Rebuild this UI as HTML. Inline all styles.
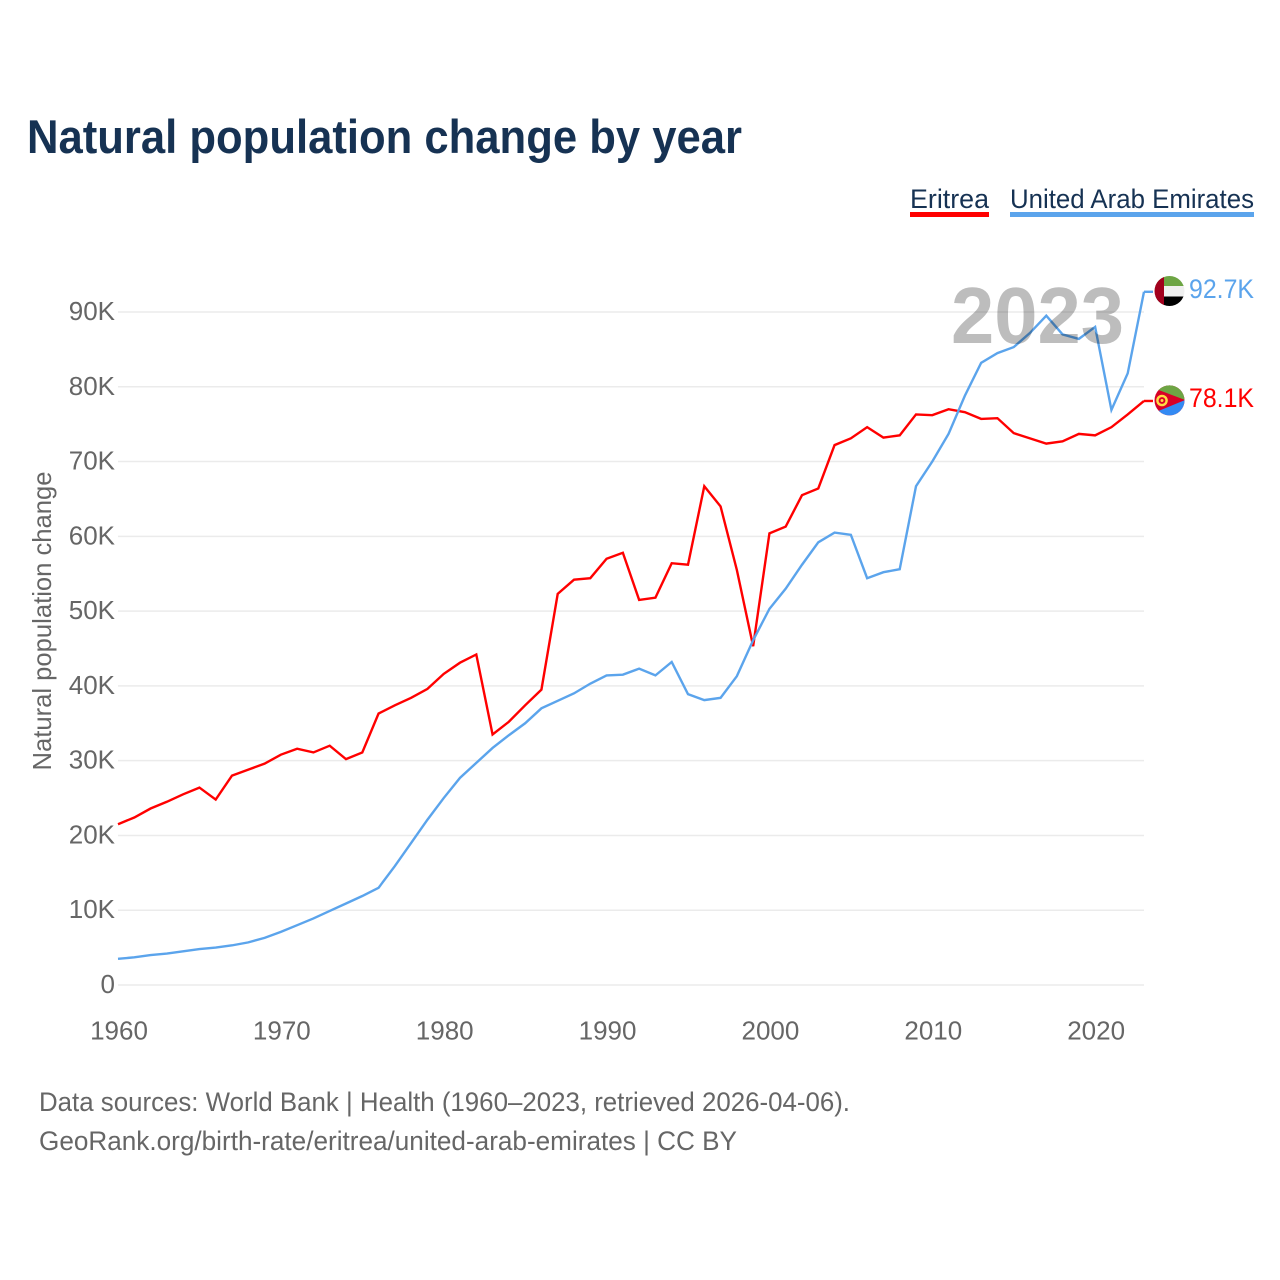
<!DOCTYPE html>
<html lang="en">
<head>
<meta charset="utf-8">
<title>Natural population change by year</title>
<style>
html,body{margin:0;padding:0;background:#fff;}
svg{display:block;}
text{font-family:"Liberation Sans",sans-serif;}
.tick{font-size:26px;fill:#666;}
.foot{font-size:27px;fill:#666;}
</style>
</head>
<body>
<svg id="chart" width="1280" height="1280" viewBox="0 0 1280 1280">
  <text x="27" y="153" font-size="47" font-weight="700" fill="#163253" textLength="715" lengthAdjust="spacingAndGlyphs">Natural population change by year</text>

  <g>
    <text x="910" y="208" font-size="27" fill="#163253" textLength="79" lengthAdjust="spacingAndGlyphs">Eritrea</text>
    <rect x="910" y="212" width="79" height="5" fill="#ff0000"></rect>
  </g>
  <g>
    <text x="1010" y="208" font-size="27" fill="#163253" textLength="244" lengthAdjust="spacingAndGlyphs">United Arab Emirates</text>
    <rect x="1010" y="212" width="244" height="5" fill="#5ba4ec"></rect>
  </g>

  <g id="grid"></g>
  <g id="yticks"></g>
  <g id="xticks"></g>

  <text transform="translate(51,621) rotate(-90)" text-anchor="middle" font-size="26" fill="#666" textLength="299" lengthAdjust="spacingAndGlyphs">Natural population change</text>

  <path id="line-eritrea" fill="none" stroke="#ff0000" stroke-width="2.4" stroke-linejoin="miter"></path>
  <path id="line-uae" fill="none" stroke="#5ba4ec" stroke-width="2.4" stroke-linejoin="miter"></path>

  <text id="year-label" x="1124" y="343" text-anchor="end" font-size="80" font-weight="700" fill="#bdbdbd" textLength="173" lengthAdjust="spacingAndGlyphs" style="mix-blend-mode:multiply">2023</text>

  <defs>
    <clipPath id="clip-uae"><circle cx="1169.5" cy="291" r="15"></circle></clipPath>
    <clipPath id="clip-eri"><circle cx="1169.5" cy="400.4" r="15"></circle></clipPath>
  </defs>

  <g id="end-uae">
    <path id="stub-uae" fill="none" stroke="#5ba4ec" stroke-width="2.4"></path>
    <g id="flag-uae">
      <g clip-path="url(#clip-uae)">
        <rect x="1154" y="275" width="31" height="11" fill="#6da544"></rect>
        <rect x="1154" y="286" width="31" height="10.5" fill="#f0f0f0"></rect>
        <rect x="1154" y="296.5" width="31" height="11" fill="#000000"></rect>
        <rect x="1154" y="275" width="10" height="32" fill="#a2001d"></rect>
      </g>
    </g>
    <text id="value-uae" x="1254" y="297" text-anchor="end" font-size="27" fill="#5ba4ec" textLength="65" lengthAdjust="spacingAndGlyphs">92.7K</text>
  </g>

  <g id="end-eri">
    <path id="stub-eri" fill="none" stroke="#ff0000" stroke-width="2.4"></path>
    <g id="flag-eri">
      <g clip-path="url(#clip-eri)">
        <rect x="1154" y="385" width="31" height="31" fill="#d80027"></rect>
        <polygon points="1154,385 1185,385 1185,400 1156,389" fill="#6da544"></polygon>
        <polygon points="1154,416 1185,416 1185,400 1156,412" fill="#338af3"></polygon>
        <circle cx="1162" cy="400.5" r="4.6" fill="none" stroke="#ffda44" stroke-width="2.4"></circle>
        <circle cx="1162" cy="400.5" r="1.5" fill="#ffda44"></circle>
      </g>
    </g>
    <text id="value-eri" x="1254" y="406" text-anchor="end" font-size="27" fill="#ff0000" textLength="65" lengthAdjust="spacingAndGlyphs">78.1K</text>
  </g>

  <text class="foot" x="39" y="1111" textLength="811" lengthAdjust="spacingAndGlyphs">Data sources: World Bank | Health (1960–2023, retrieved 2026-04-06).</text>
  <text class="foot" x="39" y="1150" textLength="698" lengthAdjust="spacingAndGlyphs">GeoRank.org/birth-rate/eritrea/united-arab-emirates | CC BY</text>
</svg>

<script>
const startYear = 1960;
const endYear = 2023;
const yTickValues = [0, 10, 20, 30, 40, 50, 60, 70, 80, 90];
const yTickLabels = ["0", "10K", "20K", "30K", "40K", "50K", "60K", "70K", "80K", "90K"];
const xTickYears = [1960, 1970, 1980, 1990, 2000, 2010, 2020];
const eritreaValues = [
  21.5, 22.4, 23.6, 24.5, 25.5, 26.4, 24.8, 28.0, 28.8, 29.6,
  30.8, 31.6, 31.1, 32.0, 30.2, 31.1, 36.3, 37.4, 38.4, 39.6,
  41.6, 43.1, 44.2, 33.5, 35.2, 37.4, 39.5, 52.3, 54.2, 54.4,
  57.0, 57.8, 51.5, 51.8, 56.4, 56.2, 66.7, 64.0, 55.5, 45.3,
  60.4, 61.3, 65.5, 66.4, 72.2, 73.1, 74.6, 73.2, 73.5, 76.3,
  76.2, 77.0, 76.6, 75.7, 75.8, 73.8, 73.1, 72.4, 72.7, 73.7,
  73.5, 74.6, 76.3, 78.1
];
const uaeValues = [
  3.5, 3.7, 4.0, 4.2, 4.5, 4.8, 5.0, 5.3, 5.7, 6.3,
  7.1, 8.0, 8.9, 9.9, 10.9, 11.9, 13.0, 15.9, 19.0, 22.1,
  25.0, 27.7, 29.7, 31.7, 33.4, 35.0, 37.0, 38.0, 39.0, 40.3,
  41.4, 41.5, 42.3, 41.4, 43.2, 38.9, 38.1, 38.4, 41.3, 46.1,
  50.3, 53.0, 56.2, 59.2, 60.5, 60.2, 54.4, 55.2, 55.6, 66.7,
  70.0, 73.7, 78.8, 83.2, 84.5, 85.3, 87.2, 89.5, 87.0, 86.4,
  88.0, 76.9, 81.8, 92.7
];

const SVG_NS = "http://www.w3.org/2000/svg";
const plotLeft = 118, plotRight = 1144, plotBottom = 985, pxPerK = 7.478;
function xScale(year) {
  return plotLeft + (year - startYear) * (plotRight - plotLeft) / (endYear - startYear);
}
function yScale(v) {
  return plotBottom - v * pxPerK;
}
function linePath(values) {
  return values.map(function (v, i) {
    return (i ? "L" : "M") + xScale(startYear + i).toFixed(2) + " " + yScale(v).toFixed(2);
  }).join(" ");
}

const grid = document.getElementById("grid");
const yticks = document.getElementById("yticks");
const xticks = document.getElementById("xticks");

yTickValues.forEach(function (v, i) {
  const y = yScale(v);
  const gl = document.createElementNS(SVG_NS, "line");
  gl.setAttribute("x1", plotLeft);
  gl.setAttribute("x2", plotRight);
  gl.setAttribute("y1", y);
  gl.setAttribute("y2", y);
  gl.setAttribute("stroke", "#ebebeb");
  gl.setAttribute("stroke-width", "1.5");
  
  
  grid.appendChild(gl);

  const t = document.createElementNS(SVG_NS, "text");
  t.setAttribute("x", 115);
  t.setAttribute("y", y + 8);
  t.setAttribute("text-anchor", "end");
  t.setAttribute("class", "tick");
  
  
  t.textContent = yTickLabels[i];
  yticks.appendChild(t);
});

xTickYears.forEach(function (yr) {
  const t = document.createElementNS(SVG_NS, "text");
  t.setAttribute("x", xScale(yr) + 1);
  t.setAttribute("y", 1039.5);
  t.setAttribute("text-anchor", "middle");
  t.setAttribute("class", "tick");
  
  
  t.textContent = String(yr);
  xticks.appendChild(t);
});

document.getElementById("line-eritrea").setAttribute("d", linePath(eritreaValues));
document.getElementById("line-uae").setAttribute("d", linePath(uaeValues));

function placeEnd(values, drawnValue, stubId, flagId, textId) {
  const last = values[values.length - 1];
  const y = yScale(last);
  document.getElementById(stubId).setAttribute("d", "M" + plotRight + " " + y + " L1153 " + y);
  document.getElementById(flagId).setAttribute("transform", "translate(0," + (y - yScale(drawnValue)) + ")");
  document.getElementById(textId).setAttribute("y", y + 6);
  document.getElementById(textId).textContent = last.toFixed(1) + "K";
}
placeEnd(uaeValues, 92.7, "stub-uae", "flag-uae", "value-uae");
placeEnd(eritreaValues, 78.1, "stub-eri", "flag-eri", "value-eri");
</script>
</body>
</html>
